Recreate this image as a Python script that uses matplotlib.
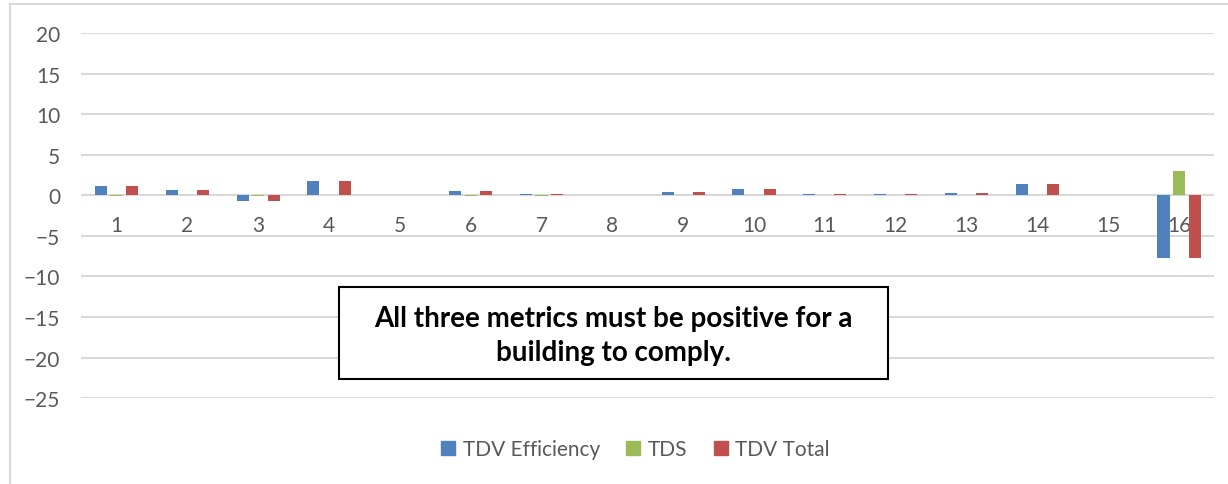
import numpy as np
import matplotlib
matplotlib.use("Agg")
import matplotlib.pyplot as plt
from matplotlib.patches import Rectangle
from matplotlib.lines import Line2D

# values
cases = [str(i) for i in range(1, 17)]
tdv_eff = [1.1, 0.6, -0.65, 1.8, 0.0, 0.5, 0.2, 0.0, 0.4, 0.8, 0.1, 0.1, 0.3, 1.4, 0.0, -7.7]
tds = [-0.1, 0.0, -0.1, 0.0, 0.0, -0.1, -0.15, 0.0, 0.0, 0.0, 0.0, 0.0, 0.0, 0.05, 0.0, 3.05]
tdv_total = [1.1, 0.6, -0.65, 1.8, 0.0, 0.5, 0.2, 0.0, 0.4, 0.8, 0.1, 0.1, 0.3, 1.4, 0.0, -7.7]
series_names = ["TDV Efficiency", "TDS", "TDV Total"]
colors = ["#4f81bd", "#9bbb59", "#c0504d"]

plt.rcParams['font.family'] = ['Lato', 'DejaVu Sans']
grey = "#595959"

fig = plt.figure(figsize=(12.28, 4.85), dpi=100)
ax = fig.add_axes([0.066, 0.177, 0.923, 0.753])

x = np.arange(1, len(cases) + 1)
w = 0.17
off = 0.22
for vals, name, c, dx in zip([tdv_eff, tds, tdv_total], series_names, colors, [-off, 0, off]):
    ax.bar(x + dx, vals, width=w, color=c, label=name, zorder=3)

ax.set_xlim(0.5, 16.5)
ax.set_ylim(-25, 20)
ax.set_yticks(range(-25, 21, 5))
ax.grid(axis='y', color='#d9d9d9', linewidth=1.5, zorder=0)
ax.axhline(0, color='#d9d9d9', linewidth=1.5, zorder=1)
for s in ax.spines.values():
    s.set_visible(False)
ax.spines['bottom'].set_position(('data', 0))
ax.set_xticks(x)
ax.set_xticklabels(cases)
ax.tick_params(axis='x', length=0, pad=14, labelsize=15, labelcolor=grey)
ax.tick_params(axis='y', length=0, pad=15, labelsize=15, labelcolor=grey)

# legend
handles = [Line2D([], [], marker='s', linestyle='none', markersize=10, color=c) for c in colors]
fig.legend(handles, series_names, loc='center', bbox_to_anchor=(0.517, 0.072), ncol=3,
           frameon=False, fontsize=15, labelcolor=grey, handletextpad=0.3, columnspacing=1.2,
           handlelength=0.8)

# note box
fig.patches.append(Rectangle((339 / 1228, 1 - 380 / 485), (888 - 339) / 1228, 92 / 485,
                             transform=fig.transFigure, facecolor='white', edgecolor='black',
                             linewidth=1.5, zorder=5))
fig.text(613 / 1228, 1 - 336 / 485, "All three metrics must be positive for a\nbuilding to comply.",
         ha='center', va='center', fontsize=20, fontweight='bold', linespacing=1.35, zorder=6)

# chart border (top and left)
fig.add_artist(Line2D([10 / 1228, 1], [1 - 5 / 485, 1 - 5 / 485], transform=fig.transFigure,
                      color='#d9d9d9', linewidth=1.5))
fig.add_artist(Line2D([10 / 1228, 10 / 1228], [0, 1 - 5 / 485], transform=fig.transFigure,
                      color='#d9d9d9', linewidth=1.5))

fig.savefig("out.png", dpi=100)
